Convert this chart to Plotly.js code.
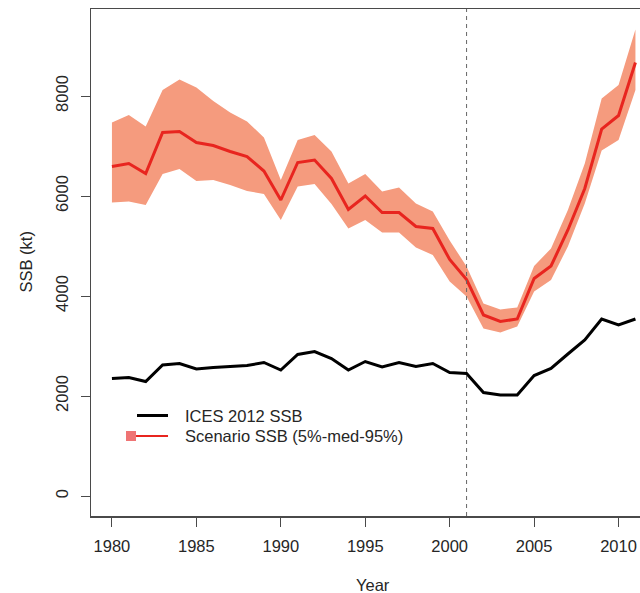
<!DOCTYPE html>
<html>
<head>
<meta charset="utf-8">
<script src="https://cdn.plot.ly/plotly-3.0.1.min.js"></script>
<style>
  html, body { margin: 0; padding: 0; background: #ffffff; }
  #chart { width: 640px; height: 593px; }
</style>
</head>
<body>
<div id="chart"></div>
<script>
// Spawning stock biomass (kt), 1980-2011
const years = [1980,1981,1982,1983,1984,1985,1986,1987,1988,1989,1990,1991,1992,1993,1994,1995,
               1996,1997,1998,1999,2000,2001,2002,2003,2004,2005,2006,2007,2008,2009,2010,2011];

// ICES 2012 assessment SSB
const icesSSB = [2350,2370,2290,2620,2650,2540,2570,2590,2610,2670,2520,2830,2890,2750,2520,2690,
                 2580,2670,2590,2650,2470,2450,2070,2020,2020,2410,2550,2840,3120,3540,3420,3540];

// Scenario SSB: median and 5% / 95% quantiles
const scenMed = [6590,6650,6450,7270,7290,7070,7010,6890,6790,6500,5920,6670,6720,6350,5730,6000,
                 5670,5670,5390,5350,4730,4330,3620,3490,3540,4350,4600,5320,6150,7340,7610,8670];
const scenHi  = [7470,7620,7390,8120,8330,8170,7900,7670,7490,7170,6320,7120,7220,6890,6250,6440,
                 6090,6170,5850,5690,5110,4590,3850,3730,3770,4600,4950,5720,6650,7950,8220,9330];
const scenLo  = [5870,5890,5820,6440,6540,6300,6320,6220,6100,6040,5520,6190,6240,5840,5350,5520,
                 5270,5270,4970,4820,4290,3990,3350,3270,3390,4090,4320,4990,5850,6910,7120,8120];

const xTicks = [1980,1985,1990,1995,2000,2005,2010];
const yTicks = [0,2000,4000,6000,8000];
const splitYear = 2001;

const legendLabels = ['ICES 2012 SSB', 'Scenario SSB (5%-med-95%)'];

const FONT = 'Liberation Sans, Arial, Helvetica, sans-serif';
const FSIZE = 16.5;
const TXT = '#262626';
const AXIS = '#4a4a4a';

const band = {
  x: years.concat(years.slice().reverse()),
  y: scenHi.concat(scenLo.slice().reverse()),
  type: 'scatter', mode: 'lines',
  fill: 'toself', fillcolor: '#F59B7E',
  line: {width: 0, color: 'rgba(0,0,0,0)'},
  hoverinfo: 'skip', showlegend: false
};
const median = {
  x: years, y: scenMed, type: 'scatter', mode: 'lines',
  line: {color: '#E8251F', width: 3}, name: legendLabels[1], showlegend: false
};
const ices = {
  x: years, y: icesSSB, type: 'scatter', mode: 'lines',
  line: {color: '#000000', width: 3}, name: legendLabels[0], showlegend: false
};

// legend drawn as key shapes plus text, in plot-area fractions
const legendShapes = [
  {type: 'line', xref: 'paper', yref: 'paper', x0: 0.0838, x1: 0.1403, y0: 0.1982, y1: 0.1982,
   line: {color: '#000000', width: 3}},
  {type: 'line', xref: 'paper', yref: 'paper', x0: 0.0820, x1: 0.1403, y0: 0.1578, y1: 0.1578,
   line: {color: '#E8251F', width: 2}},
  {type: 'rect', xref: 'paper', yref: 'paper', x0: 0.0638, x1: 0.0820, y0: 0.1479, y1: 0.1677,
   fillcolor: '#EF7474', line: {width: 0}}
];

const layout = {
  width: 640, height: 593,
  margin: {l: 91, r: 0, t: 9, b: 77, pad: 0},
  paper_bgcolor: '#ffffff', plot_bgcolor: '#ffffff',
  font: {family: FONT, size: FSIZE, color: TXT},
  showlegend: false,
  xaxis: {
    range: [1978.76, 2011.27], tickvals: xTicks, ticktext: xTicks.map(String),
    ticks: 'outside', ticklen: 9, tickwidth: 1, tickcolor: AXIS,
    showline: true, linecolor: AXIS, linewidth: 1.5, mirror: true,
    showgrid: false, zeroline: false, ticklabelstandoff: 6,
    tickfont: {family: FONT, size: FSIZE, color: TXT}
  },
  yaxis: {
    range: [-400, 9740], tickvals: yTicks, ticktext: yTicks.map(String),
    ticks: 'outside', ticklen: 9, tickwidth: 1, tickcolor: AXIS, tickangle: -90,
    showline: true, linecolor: AXIS, linewidth: 1.5, mirror: false,
    showgrid: false, zeroline: false, ticklabelstandoff: 6,
    tickfont: {family: FONT, size: FSIZE, color: TXT}
  },
  shapes: [
    {type: 'line', xref: 'x', yref: 'paper', x0: splitYear, x1: splitYear, y0: 0, y1: 1,
     line: {color: '#666666', width: 1, dash: '4px,4px'}, layer: 'above'}
  ].concat(legendShapes),
  annotations: [
    {text: 'Year', xref: 'paper', yref: 'paper', x: 0.5137, y: -0.136,
     xanchor: 'center', yanchor: 'middle', showarrow: false,
     font: {family: FONT, size: FSIZE, color: TXT}},
    {text: 'SSB (kt)', xref: 'paper', yref: 'paper', x: -0.1202, y: 0.5,
     xanchor: 'center', yanchor: 'middle', textangle: -90, showarrow: false,
     font: {family: FONT, size: FSIZE, color: TXT}},
    {text: legendLabels[0], xref: 'paper', yref: 'paper', x: 0.1676, y: 0.1972,
     xanchor: 'left', yanchor: 'middle', showarrow: false,
     font: {family: FONT, size: FSIZE, color: TXT}},
    {text: legendLabels[1], xref: 'paper', yref: 'paper', x: 0.1676, y: 0.1578,
     xanchor: 'left', yanchor: 'middle', showarrow: false,
     font: {family: FONT, size: FSIZE, color: TXT}}
  ]
};

Plotly.newPlot('chart', [band, median, ices], layout, {displayModeBar: false, staticPlot: true});
</script>
</body>
</html>
